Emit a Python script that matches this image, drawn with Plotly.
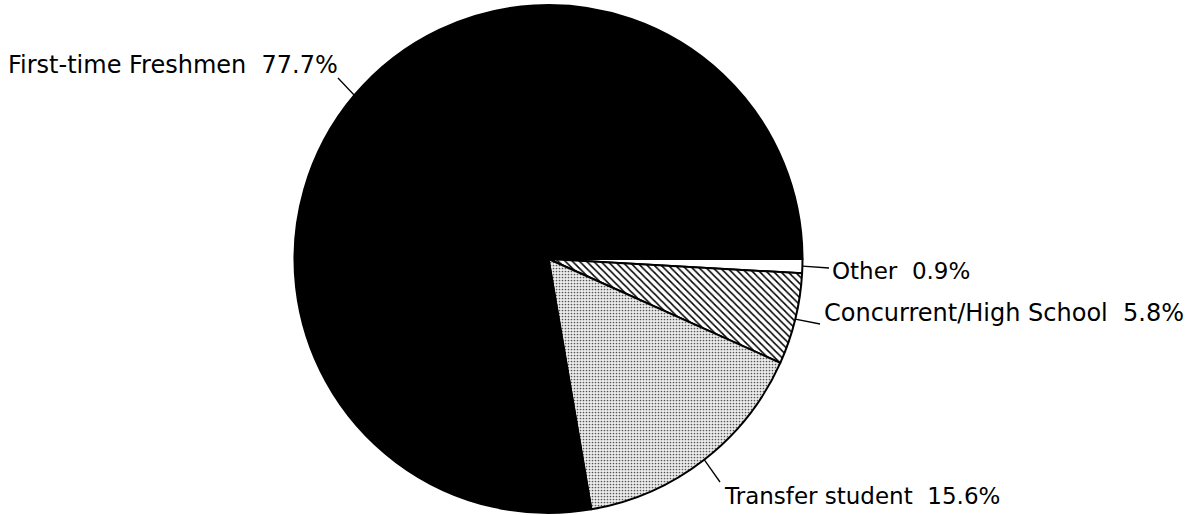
import math
import plotly.graph_objects as go

# slice data, starting at 3 o'clock and going clockwise
labels = ["Other", "Concurrent/High School", "Transfer student", "First-time Freshmen"]
values = [0.9, 5.8, 15.6, 77.7]
label_text = ["Other  0.9%", "Concurrent/High School  5.8%",
              "Transfer student  15.6%", "First-time Freshmen  77.7%"]

W, H = 1187, 515
cx, cy, r = 548.5, 259, 254   # pie centre/radius in px

fig = go.Figure()
fig.add_trace(go.Pie(
    labels=labels,
    values=values,
    sort=False,
    direction="clockwise",
    rotation=90,
    textinfo="none",
    hoverinfo="label+percent",
    showlegend=False,
    domain=dict(x=[(cx - r) / W, (cx + r) / W], y=[1 - (cy + r) / H, 1 - (cy - r) / H]),
    marker=dict(
        colors=["white", "white", "#e4e4e4", "black"],
        line=dict(color="black", width=2),
        pattern=dict(
            shape=["", "\\", ".", ""],
            fgcolor=["black", "black", "#555555", "black"],
            bgcolor=["white", "white", "#ececec", "black"],
            size=[6, 5, 3, 6],
            solidity=[0.3, 0.3, 0.25, 0.3],
        ),
    ),
))

# text spots in px: (x, y, anchor) and leader tail
text_pos = [(830, 271, "left"), (822, 313, "left"), (722, 496, "left"), (340, 65, "right")]
tail_pos = [(829, 268), (820, 324), (720, 482), (338, 78)]
font_sizes = [23, 24, 23, 24]

total = sum(values)
cum = 0
shapes = []
annotations = []
for i, v in enumerate(values):
    ang = -2 * math.pi * (cum + v / 2) / total
    cum += v
    hx = cx + r * math.cos(ang)
    hy = cy - r * math.sin(ang)
    tx, ty = tail_pos[i]
    shapes.append(dict(type="line", xref="paper", yref="paper",
                       x0=hx / W, y0=1 - hy / H, x1=tx / W, y1=1 - ty / H,
                       line=dict(color="black", width=1.3)))
    px, py, anc = text_pos[i]
    annotations.append(dict(x=px / W, y=1 - py / H, xref="paper", yref="paper",
                            text=label_text[i], showarrow=False,
                            xanchor=anc, yanchor="middle",
                            font=dict(family="DejaVu Sans", size=font_sizes[i], color="black")))

fig.update_layout(
    width=W, height=H,
    margin=dict(l=0, r=0, t=0, b=0),
    paper_bgcolor="white",
    plot_bgcolor="white",
    shapes=shapes,
    annotations=annotations,
)

fig.write_html("out.html", config={"displayModeBar": False},
               post_script="document.body.style.margin='0';")
